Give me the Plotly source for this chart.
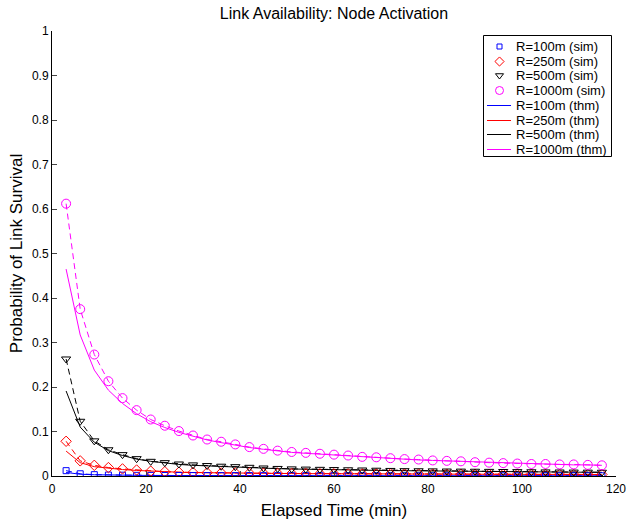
import plotly.graph_objects as go

elapsed_min = [3, 6, 9, 12, 15, 18, 21, 24, 27, 30, 33, 36, 39, 42, 45, 48, 51, 54, 57, 60,
               63, 66, 69, 72, 75, 78, 81, 84, 87, 90, 93, 96, 99, 102, 105, 108, 111, 114, 117]

sim_r100 = [0.012, 0.005, 0.003, 0.0022, 0.0018, 0.0015, 0.0013, 0.0012, 0.0011, 0.0010,
            0.0010, 0.0009, 0.0009, 0.0009, 0.0008, 0.0008, 0.0008, 0.0008, 0.0007, 0.0007,
            0.0007, 0.0007, 0.0007, 0.0006, 0.0006, 0.0006, 0.0006, 0.0006, 0.0006, 0.0006,
            0.0005, 0.0005, 0.0005, 0.0005, 0.0005, 0.0005, 0.0005, 0.0005, 0.0005]
sim_r250 = [0.078, 0.034, 0.024, 0.019, 0.016, 0.0135, 0.011, 0.0097, 0.0085, 0.0078,
            0.0073, 0.0069, 0.0066, 0.0063, 0.006, 0.0058, 0.0056, 0.0054, 0.0052, 0.005,
            0.0049, 0.0048, 0.0047, 0.0046, 0.0045, 0.0044, 0.0043, 0.0042, 0.0041, 0.004,
            0.0039, 0.0038, 0.0038, 0.0037, 0.0036, 0.0036, 0.0035, 0.0035, 0.0034]
sim_r500 = [0.263, 0.123, 0.079, 0.059, 0.048, 0.039, 0.033, 0.030, 0.027, 0.025,
            0.0235, 0.022, 0.021, 0.0195, 0.018, 0.017, 0.016, 0.0155, 0.015, 0.0145,
            0.014, 0.0135, 0.013, 0.0125, 0.012, 0.0118, 0.0115, 0.0112, 0.011, 0.0107,
            0.0104, 0.0101, 0.0098, 0.0095, 0.0092, 0.009, 0.0088, 0.0086, 0.0084]
sim_r1000 = [0.612, 0.375, 0.273, 0.213, 0.175, 0.148, 0.127, 0.113, 0.101, 0.091,
             0.082, 0.077, 0.071, 0.065, 0.061, 0.057, 0.054, 0.052, 0.050, 0.048,
             0.046, 0.043, 0.042, 0.040, 0.038, 0.037, 0.035, 0.034, 0.033, 0.031,
             0.030, 0.029, 0.028, 0.027, 0.027, 0.026, 0.026, 0.025, 0.024]

thm_r100 = [0.008, 0.004, 0.0028, 0.0021, 0.0017, 0.0014, 0.0012, 0.0011, 0.0010, 0.0010,
            0.0009, 0.0009, 0.0009, 0.0008, 0.0008, 0.0008, 0.0008, 0.0007, 0.0007, 0.0007,
            0.0007, 0.0007, 0.0006, 0.0006, 0.0006, 0.0006, 0.0006, 0.0006, 0.0006, 0.0005,
            0.0005, 0.0005, 0.0005, 0.0005, 0.0005, 0.0005, 0.0005, 0.0005, 0.0005]
thm_r250 = [0.056, 0.030, 0.021, 0.017, 0.0145, 0.0125, 0.0108, 0.0095, 0.0085, 0.0077,
            0.0072, 0.0068, 0.0065, 0.0062, 0.0059, 0.0057, 0.0055, 0.0053, 0.0051, 0.0049,
            0.0048, 0.0047, 0.0046, 0.0045, 0.0044, 0.0043, 0.0042, 0.0041, 0.004, 0.0039,
            0.0038, 0.0038, 0.0037, 0.0036, 0.0036, 0.0035, 0.0035, 0.0034, 0.0034]
thm_r500 = [0.191, 0.110, 0.076, 0.057, 0.046, 0.038, 0.033, 0.029, 0.026, 0.024,
            0.0225, 0.021, 0.020, 0.019, 0.0175, 0.0165, 0.0158, 0.015, 0.0145, 0.014,
            0.0135, 0.013, 0.0126, 0.0122, 0.0118, 0.0114, 0.0111, 0.0108, 0.0105, 0.0102,
            0.0099, 0.0096, 0.0094, 0.0092, 0.009, 0.0088, 0.0086, 0.0084, 0.0082]
thm_r1000 = [0.465, 0.317, 0.238, 0.193, 0.163, 0.140, 0.122, 0.109, 0.098, 0.089,
             0.081, 0.075, 0.069, 0.064, 0.060, 0.056, 0.053, 0.051, 0.049, 0.047,
             0.045, 0.043, 0.041, 0.039, 0.038, 0.036, 0.035, 0.034, 0.032, 0.031,
             0.030, 0.029, 0.028, 0.027, 0.026, 0.026, 0.025, 0.025, 0.024]

sim_names = ["R=100m (sim)", "R=250m (sim)", "R=500m (sim)", "R=1000m (sim)"]
thm_names = ["R=100m (thm)", "R=250m (thm)", "R=500m (thm)", "R=1000m (thm)"]
colors = ["#0000ff", "#ff0000", "#000000", "#ff00ff"]
symbols = ["square-open", "diamond-open", "triangle-down-open", "circle-open"]
sizes = [6, 8, 8, 9]
sims = [sim_r100, sim_r250, sim_r500, sim_r1000]
thms = [thm_r100, thm_r250, thm_r500, thm_r1000]

W, H = 641, 522
ML, MR, MT, MB = 52, 25, 31, 46
font_family = "Liberation Sans, Arial, sans-serif"

fig = go.Figure()

# theory solid lines
for s, c, n in zip(thms, colors, thm_names):
    fig.add_trace(go.Scatter(x=elapsed_min, y=s, mode="lines", name=n, showlegend=False,
                             line=dict(color=c, width=1)))
# dashed connecting lines for simulation data
for s, c in zip(sims, colors):
    fig.add_trace(go.Scatter(x=elapsed_min, y=s, mode="lines", showlegend=False,
                             line=dict(color=c, width=1, dash="6px,4px"), hoverinfo="skip"))
# simulation markers
for s, c, n, sym, sz in zip(sims, colors, sim_names, symbols, sizes):
    fig.add_trace(go.Scatter(x=elapsed_min, y=s, mode="markers", name=n, showlegend=False,
                             marker=dict(symbol=sym, size=sz, color=c, line=dict(color=c, width=1))))

# ---- hand-built legend in pixel space (overlay axes x2/y2 = pixel coordinates) ----
leg_left, leg_top, leg_right, leg_bottom = 483.5, 35.5, 611.5, 156.5
row0, row_step = 46.0, 14.7
glyph_x, line_x0, line_x1, text_x = 499.5, 487, 511, 514
rows = [round(row0 + i * row_step) + 0.5 for i in range(8)]

fig.add_shape(type="rect", xref="x2", yref="y2", x0=leg_left, x1=leg_right,
              y0=leg_top, y1=leg_bottom, line=dict(color="black", width=1),
              fillcolor="white", layer="below")
for i, (c, sym, sz) in enumerate(zip(colors, symbols, sizes)):
    fig.add_trace(go.Scatter(x=[glyph_x], y=[rows[i]], xaxis="x2", yaxis="y2", mode="markers",
                             showlegend=False, hoverinfo="skip", cliponaxis=False,
                             marker=dict(symbol=sym, size=sz - 1, color=c, line=dict(color=c, width=1))))
for j, c in enumerate(colors):
    fig.add_trace(go.Scatter(x=[line_x0, line_x1], y=[rows[4 + j]] * 2, xaxis="x2", yaxis="y2",
                             mode="lines", showlegend=False, hoverinfo="skip", cliponaxis=False,
                             line=dict(color=c, width=1)))
for i, name in enumerate(sim_names + thm_names):
    fig.add_annotation(x=text_x, y=rows[i], xref="x2", yref="y2", text=name, showarrow=False,
                       xanchor="left", yanchor="middle", font=dict(size=13, family=font_family))

fig.update_layout(
    width=W, height=H,
    margin=dict(l=ML, r=MR, t=MT, b=MB, autoexpand=False),
    paper_bgcolor="white", plot_bgcolor="white",
    font=dict(family=font_family, size=12, color="black"),
    showlegend=False,
    title=dict(text="Link Availability: Node Activation", x=334 / W, xanchor="center",
               y=1 - 13 / H, yanchor="middle", font=dict(size=16, family=font_family)),
    xaxis=dict(range=[0, 120], dtick=20, tick0=0, ticks="inside", ticklen=5,
               showline=True, linecolor="black", linewidth=1, showgrid=False,
               zeroline=False, mirror=False, tickfont=dict(size=12), automargin=False,
               ticklabelstandoff=2,
               title=dict(text="Elapsed Time (min)", font=dict(size=17), standoff=8)),
    yaxis=dict(range=[0, 1], dtick=0.1, tick0=0, ticks="inside", ticklen=5,
               showline=True, linecolor="black", linewidth=1, showgrid=False,
               zeroline=False, mirror=False, tickfont=dict(size=12), automargin=False,
               title=dict(text="Probability of Link Survival", font=dict(size=17), standoff=4)),
    xaxis2=dict(range=[ML, W - MR], overlaying="x", anchor="y2", visible=False,
                showgrid=False, zeroline=False, fixedrange=True),
    yaxis2=dict(range=[H - MB, MT], overlaying="y", anchor="x2", visible=False,
                showgrid=False, zeroline=False, fixedrange=True),
)

fig.write_html("out.html", config={"displayModeBar": False},
               post_script="document.body.style.margin='0';document.body.style.overflow='hidden';")
